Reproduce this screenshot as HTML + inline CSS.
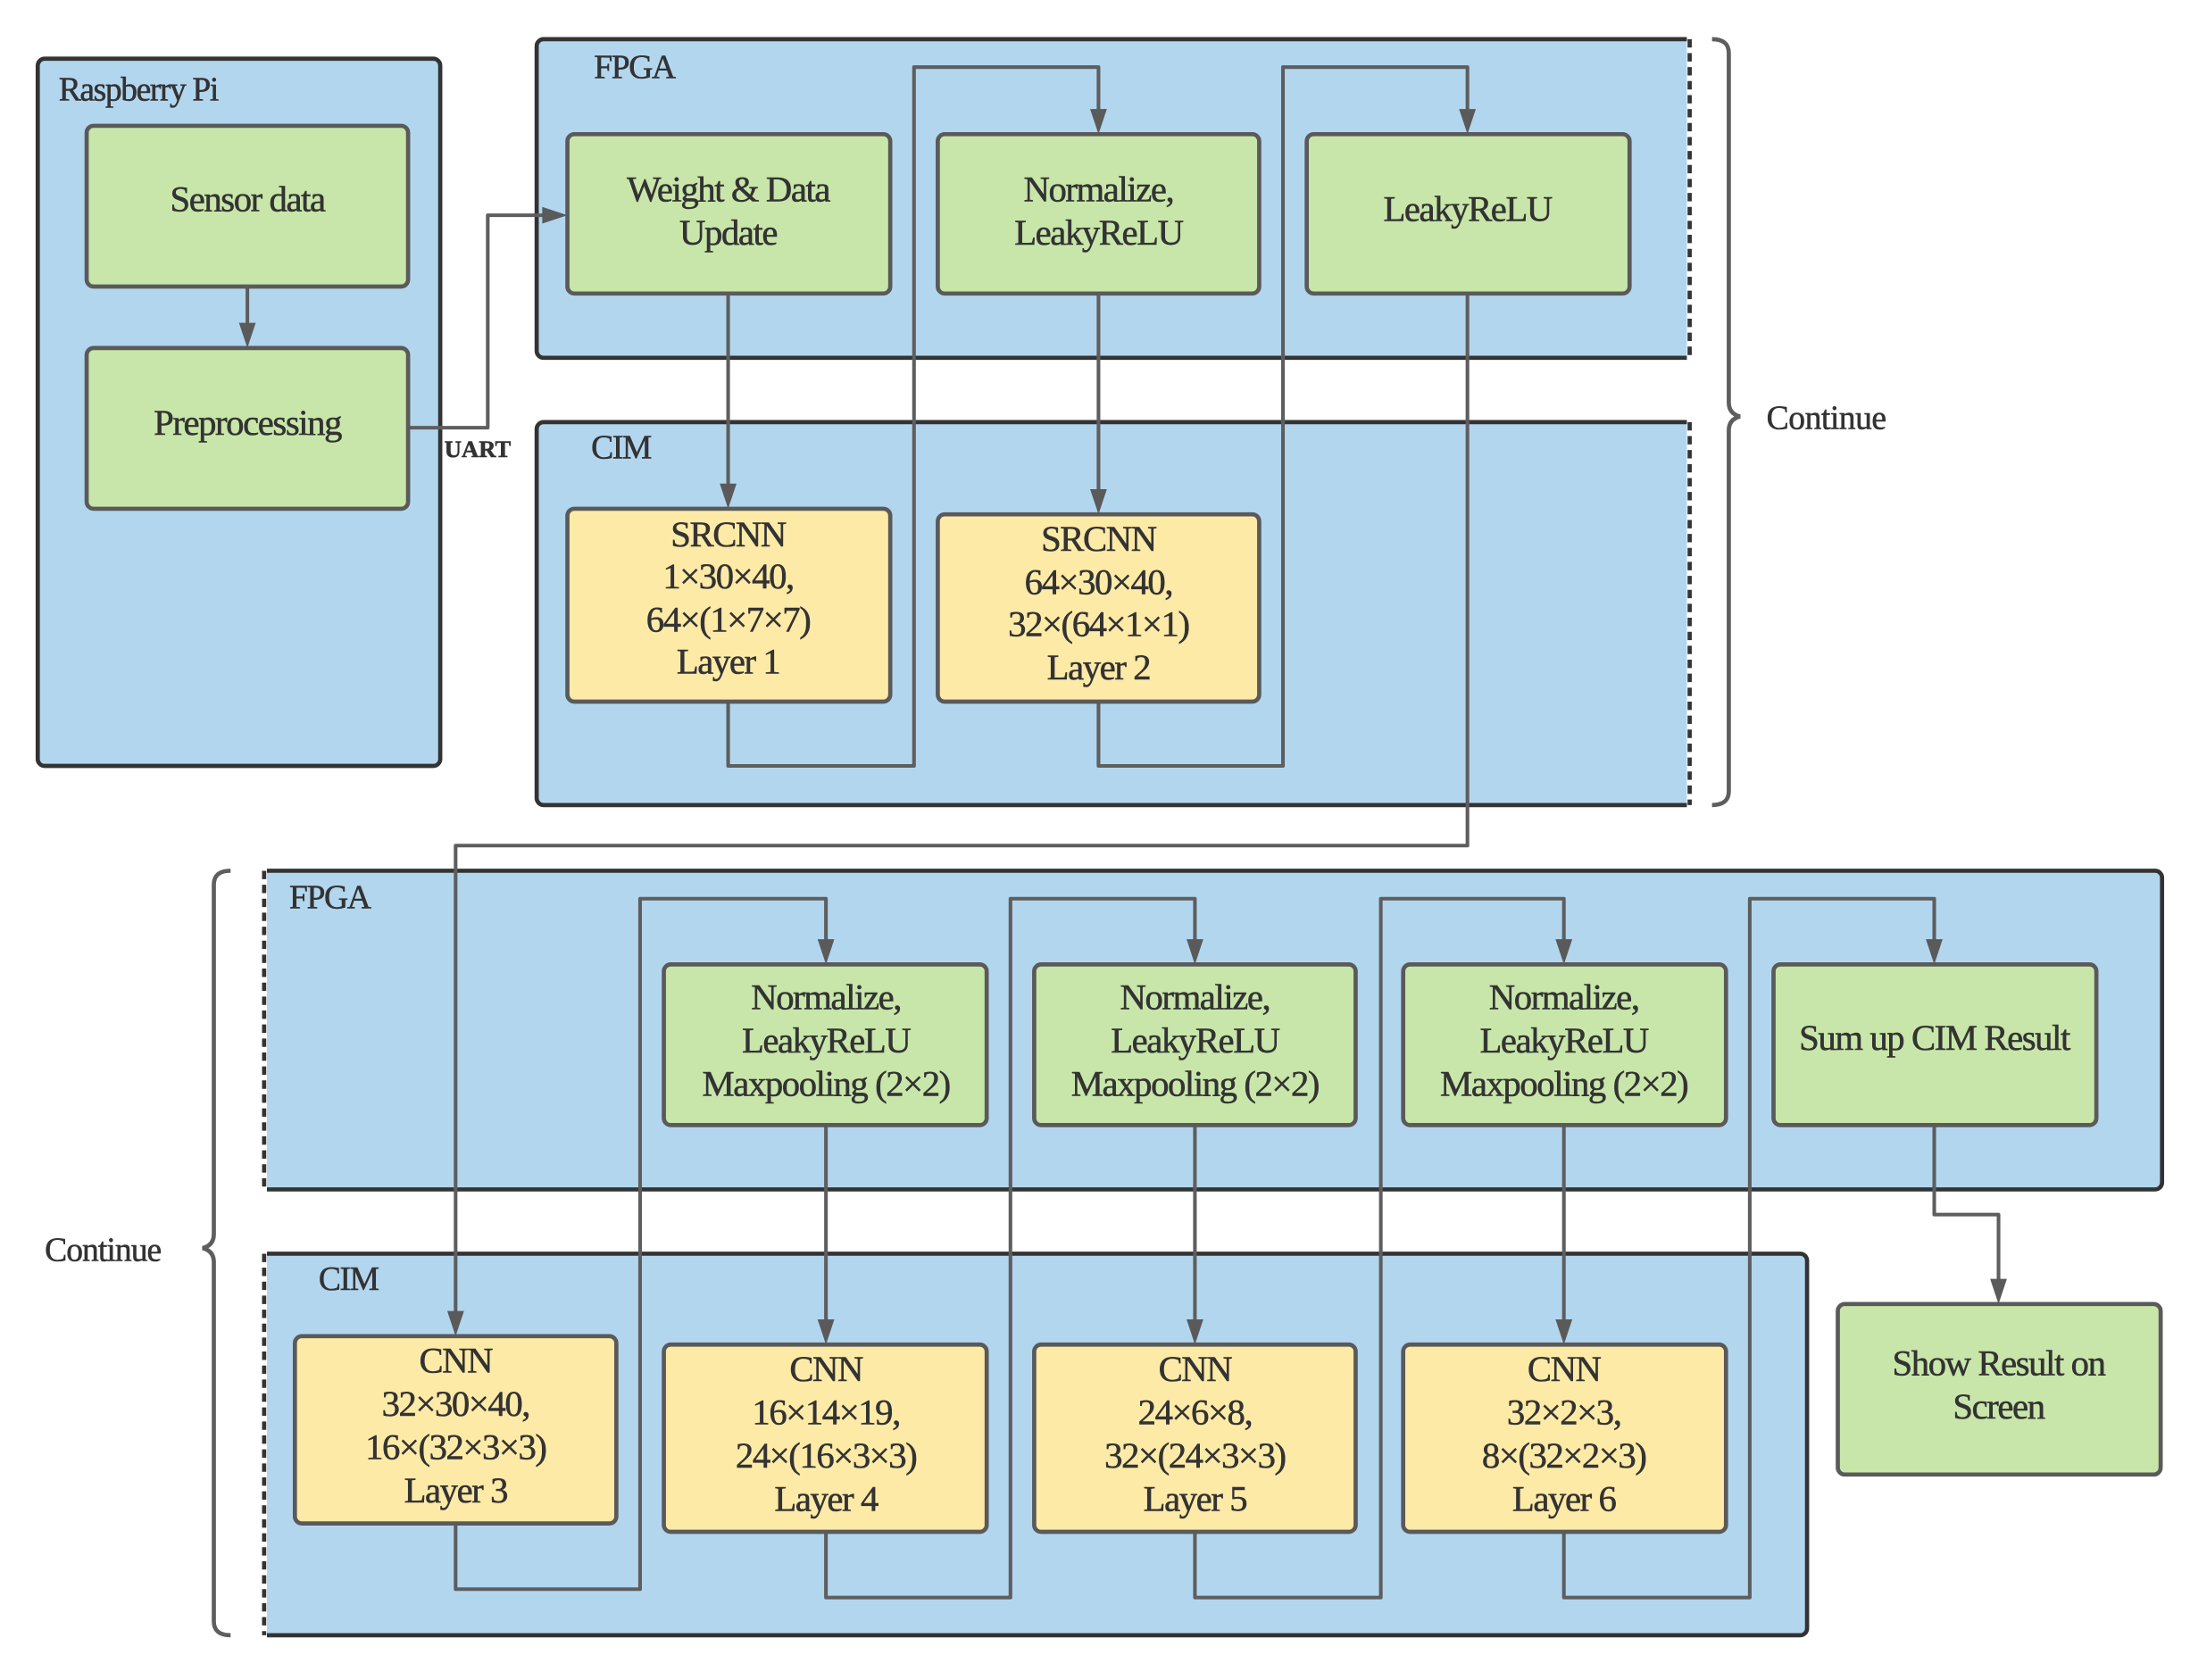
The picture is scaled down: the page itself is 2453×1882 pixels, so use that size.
<!DOCTYPE html>
<html><head><meta charset="utf-8"><style>html,body{margin:0;padding:0;background:#fff}svg{display:block}
text{font-family:"Liberation Serif",serif;fill:#333;stroke:#333;stroke-width:0.35;font-size:26px;letter-spacing:-0.9px}
.c{text-anchor:middle}</style></head><body>
<svg width="2453" height="1882" viewBox="0 0 1567 1202" preserveAspectRatio="none">
<!-- containers -->
<rect x="27" y="42" width="288" height="506" rx="5" fill="#b3d6ef" stroke="#333" stroke-width="3"/>
<path d="M1207,28 H389 a5,5 0 0 0 -5,5 V251 a5,5 0 0 0 5,5 H1207" fill="#b3d6ef" stroke="#333" stroke-width="3"/>
<line x1="1209" y1="28" x2="1209" y2="256" stroke="#333" stroke-width="3" stroke-dasharray="6,4"/>
<path d="M1207,302 H389 a5,5 0 0 0 -5,5 V571 a5,5 0 0 0 5,5 H1207" fill="#b3d6ef" stroke="#333" stroke-width="3"/>
<line x1="1209" y1="302" x2="1209" y2="576" stroke="#333" stroke-width="3" stroke-dasharray="6,4"/>
<path d="M191,623 H1542 a5,5 0 0 1 5,5 V846 a5,5 0 0 1 -5,5 H191" fill="#b3d6ef" stroke="#333" stroke-width="3"/>
<line x1="189" y1="623" x2="189" y2="851" stroke="#333" stroke-width="3" stroke-dasharray="6,4"/>
<path d="M191,897 H1288 a5,5 0 0 1 5,5 V1165 a5,5 0 0 1 -5,5 H191" fill="#b3d6ef" stroke="#333" stroke-width="3"/>
<line x1="189" y1="897" x2="189" y2="1170" stroke="#333" stroke-width="3" stroke-dasharray="6,4"/>
<text x="42" y="72" style="font-size:24px">Raspberry Pi</text>
<text x="425" y="56" style="font-size:24px">FPGA</text>
<text x="423" y="328" style="font-size:24px">CIM</text>
<text x="207" y="650" style="font-size:24px">FPGA</text>
<text x="228" y="923" style="font-size:24px">CIM</text>
<!-- braces -->
<path d="M1225,28 q12,0 12,10 V288 q0,8 8,10 q-8,2 -8,10 V566 q0,10 -12,10" fill="none" stroke="#5e5e5e" stroke-width="3"/>
<text x="1264" y="307" style="font-size:24px;letter-spacing:-0.3px">Continue</text>
<path d="M165,623 q-12,0 -12,10 V883 q0,8 -8,10 q8,2 8,10 V1160 q0,10 12,10" fill="none" stroke="#5e5e5e" stroke-width="3"/>
<text x="32" y="902" style="font-size:24px;letter-spacing:-0.6px">Continue</text>
<!-- connectors -->
<g fill="none" stroke="#5e5e5e" stroke-width="2.6" stroke-linejoin="round">
<path d="M177,205 V235"/>
<path d="M292,306 H349 V154 H392"/>
<path d="M521,210 V350"/>
<path d="M521,502 V548 H654 V48 H786 V82"/>
<path d="M786,210 V354"/>
<path d="M786,502 V548 H918 V48 H1050 V82"/>
<path d="M1050,210 V605 H326 V942"/>
<path d="M326,1090 V1137 H458 V643 H591 V676"/>
<path d="M591,805 V948"/>
<path d="M591,1096 V1143 H723 V643 H855 V676"/>
<path d="M855,805 V948"/>
<path d="M855,1096 V1143 H988 V643 H1119 V676"/>
<path d="M1119,805 V948"/>
<path d="M1119,1096 V1143 H1252 V643 H1384 V676"/>
<path d="M1384,805 V869 H1430 V919"/>
</g>
<g fill="#5a5a5a">
<polygon points="171,231 183,231 177,249"/>
<polygon points="388,148 388,160 406,154"/>
<polygon points="515,346 527,346 521,364"/>
<polygon points="780,78 792,78 786,96"/>
<polygon points="780,350 792,350 786,368"/>
<polygon points="1044,78 1056,78 1050,96"/>
<polygon points="320,938 332,938 326,956"/>
<polygon points="585,672 597,672 591,690"/>
<polygon points="585,944 597,944 591,962"/>
<polygon points="849,672 861,672 855,690"/>
<polygon points="849,944 861,944 855,962"/>
<polygon points="1113,672 1125,672 1119,690"/>
<polygon points="1113,944 1125,944 1119,962"/>
<polygon points="1378,672 1390,672 1384,690"/>
<polygon points="1424,915 1436,915 1430,933"/>
</g>
<text x="318" y="327" style="font-size:17px;font-weight:bold;letter-spacing:0">UART</text>
<!-- boxes -->
<g stroke="#5a5a5a" stroke-width="3">
<rect x="62" y="90" width="230" height="115" rx="5" fill="#c8e6a9"/>
<rect x="62" y="249" width="230" height="115" rx="5" fill="#c8e6a9"/>
<rect x="406" y="96" width="231" height="114" rx="5" fill="#c8e6a9"/>
<rect x="671" y="96" width="230" height="114" rx="5" fill="#c8e6a9"/>
<rect x="935" y="96" width="231" height="114" rx="5" fill="#c8e6a9"/>
<rect x="406" y="364" width="231" height="138" rx="5" fill="#fdeaa6"/>
<rect x="671" y="368" width="230" height="134" rx="5" fill="#fdeaa6"/>
<rect x="475" y="690" width="231" height="115" rx="5" fill="#c8e6a9"/>
<rect x="740" y="690" width="230" height="115" rx="5" fill="#c8e6a9"/>
<rect x="1004" y="690" width="231" height="115" rx="5" fill="#c8e6a9"/>
<rect x="1269" y="690" width="231" height="115" rx="5" fill="#c8e6a9"/>
<rect x="211" y="956" width="230" height="134" rx="5" fill="#fdeaa6"/>
<rect x="475" y="962" width="231" height="134" rx="5" fill="#fdeaa6"/>
<rect x="740" y="962" width="230" height="134" rx="5" fill="#fdeaa6"/>
<rect x="1004" y="962" width="231" height="134" rx="5" fill="#fdeaa6"/>
<rect x="1315" y="933" width="231" height="122" rx="5" fill="#c8e6a9"/>
</g>
<g>
<text class="c" x="177" y="151">Sensor data</text>
<text class="c" x="177" y="311">Preprocessing</text>
<text class="c" x="521" y="144">Weight &amp; Data</text><text class="c" x="521" y="175">Update</text>
<text class="c" x="786" y="144">Normalize,</text><text class="c" x="786" y="175">LeakyReLU</text>
<text class="c" x="1050" y="158">LeakyReLU</text>
<text class="c" x="521" y="391">SRCNN</text><text class="c" x="521" y="421">1×30×40,</text><text class="c" x="521" y="452">64×(1×7×7)</text><text class="c" x="521" y="482">Layer 1</text>
<text class="c" x="786" y="394">SRCNN</text><text class="c" x="786" y="425">64×30×40,</text><text class="c" x="786" y="455">32×(64×1×1)</text><text class="c" x="786" y="486">Layer 2</text>
<text class="c" x="591" y="722">Normalize,</text><text class="c" x="591" y="753">LeakyReLU</text><text class="c" x="591" y="784">Maxpooling (2×2)</text>
<text class="c" x="855" y="722">Normalize,</text><text class="c" x="855" y="753">LeakyReLU</text><text class="c" x="855" y="784">Maxpooling (2×2)</text>
<text class="c" x="1119" y="722">Normalize,</text><text class="c" x="1119" y="753">LeakyReLU</text><text class="c" x="1119" y="784">Maxpooling (2×2)</text>
<text class="c" x="1384" y="751">Sum up CIM Result</text>
<text class="c" x="326" y="982">CNN</text><text class="c" x="326" y="1013">32×30×40,</text><text class="c" x="326" y="1044">16×(32×3×3)</text><text class="c" x="326" y="1075">Layer 3</text>
<text class="c" x="591" y="988">CNN</text><text class="c" x="591" y="1019">16×14×19,</text><text class="c" x="591" y="1050">24×(16×3×3)</text><text class="c" x="591" y="1081">Layer 4</text>
<text class="c" x="855" y="988">CNN</text><text class="c" x="855" y="1019">24×6×8,</text><text class="c" x="855" y="1050">32×(24×3×3)</text><text class="c" x="855" y="1081">Layer 5</text>
<text class="c" x="1119" y="988">CNN</text><text class="c" x="1119" y="1019">32×2×3,</text><text class="c" x="1119" y="1050">8×(32×2×3)</text><text class="c" x="1119" y="1081">Layer 6</text>
<text class="c" x="1430" y="984">Show Result on</text><text class="c" x="1430" y="1015">Screen</text>
</g>
</svg></body></html>
